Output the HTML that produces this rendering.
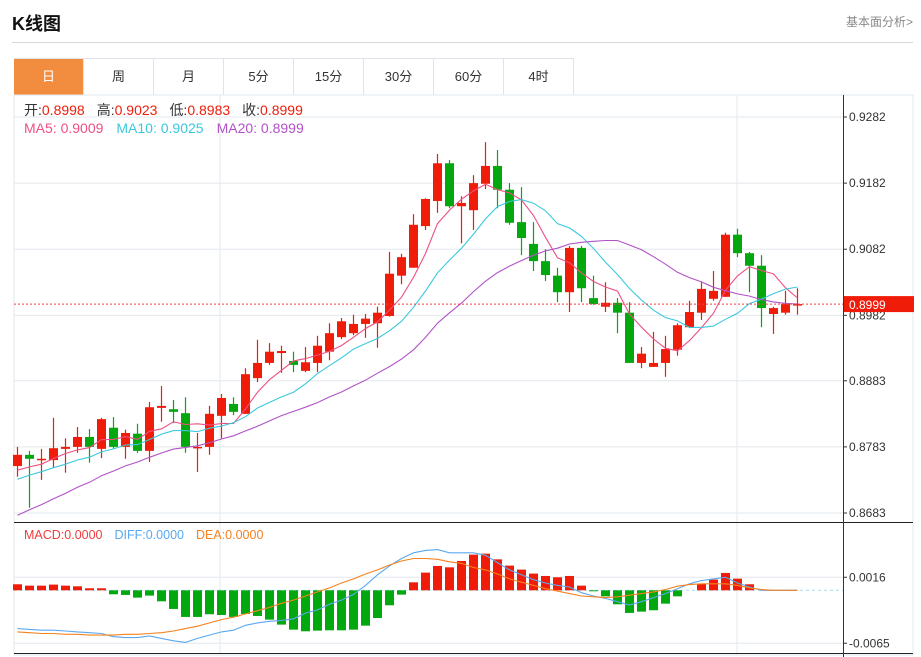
<!DOCTYPE html>
<html><head><meta charset="utf-8">
<style>
body{margin:0;background:#fff;font-family:"Liberation Sans","Noto Sans CJK SC",sans-serif;}
#wrap{position:relative;width:921px;height:657px;overflow:hidden;}
.title{position:absolute;left:12px;top:10px;font-size:18px;font-weight:bold;color:#111;}
.more{position:absolute;right:8px;top:13px;font-size:12px;color:#888;}
.hline{position:absolute;left:12px;right:8px;top:42px;height:1px;background:#d8d8d8;}
.tabs{position:absolute;left:14px;top:58px;height:36px;display:flex;border-top:1px solid #e0e4ea;}
.tab{width:69px;height:36px;line-height:36px;text-align:center;font-size:13px;color:#333;border-right:1px solid #e0e4ea;}
.tab.on{background:#f28c3f;color:#fff;}
svg{position:absolute;left:0;top:0;}
</style></head><body>
<div id="wrap">
<div class="title">K线图</div>
<div class="more">基本面分析&gt;</div>
<div class="hline"></div>
<div class="tabs">
<div class="tab on">日</div>
<div class="tab">周</div>
<div class="tab">月</div>
<div class="tab">5分</div>
<div class="tab">15分</div>
<div class="tab">30分</div>
<div class="tab">60分</div>
<div class="tab">4时</div>
</div>
<svg id="chart" width="921" height="657"></svg>
</div>
<script>
const opens=[.8754,.8771,.8763,.8763,.8780,.8783,.8798,.8780,.8812,.8783,.8803,.8777,.8842,.8840,.8834,.8781,.8783,.8830,.8848,.8833,.8887,.8910,.8925,.8913,.8898,.8910,.8927,.8949,.8955,.8969,.8970,.8981,.9042,.9054,.9117,.9155,.9212,.9147,.9141,.9181,.9208,.9172,.9123,.9090,.9064,.9042,.9017,.9084,.9008,.8995,.9001,.8986,.8910,.8904,.8910,.8930,.8964,.8986,.9007,.9010,.9104,.9076,.9057,.8984,.8986,.8998];
const highs=[.8783,.8777,.8780,.8827,.8796,.8813,.8810,.8827,.8828,.8809,.8818,.8851,.8875,.8854,.8858,.8804,.8845,.8863,.8858,.8902,.8945,.8940,.8936,.8927,.8934,.8951,.8970,.8978,.8983,.8984,.8995,.9078,.9075,.9135,.9159,.9226,.9217,.9162,.9194,.9244,.9232,.9182,.9176,.9123,.9082,.9054,.9087,.9087,.9042,.9032,.9008,.9002,.8934,.8957,.8951,.8970,.9004,.9032,.9049,.9107,.9113,.9078,.9073,.8995,.9019,.9023];
const lows=[.8738,.8691,.8733,.8751,.8744,.8774,.8759,.8766,.8780,.8765,.8774,.8760,.8821,.8819,.8774,.8745,.8771,.8796,.8831,.8833,.8881,.8907,.8895,.8896,.8896,.8896,.8914,.8946,.8952,.8948,.8933,.8980,.9029,.9054,.9111,.9137,.9144,.9091,.9111,.9173,.9144,.9119,.9073,.9049,.9034,.9002,.8987,.9002,.8998,.8987,.8955,.8910,.8902,.8904,.8889,.8921,.8963,.8975,.9004,.9010,.9070,.9017,.8964,.8954,.8983,.8983];
const closes=[.8771,.8765,.8765,.8781,.8783,.8798,.8783,.8825,.8783,.8804,.8777,.8843,.8845,.8836,.8783,.8783,.8833,.8857,.8836,.8893,.8910,.8927,.8928,.8907,.8911,.8936,.8955,.8973,.8969,.8977,.8986,.9045,.9070,.9119,.9158,.9212,.9147,.9152,.9182,.9208,.9172,.9122,.9099,.9064,.9043,.9017,.9084,.9023,.8999,.9001,.8986,.8910,.8924,.8910,.8931,.8967,.8987,.9022,.9019,.9104,.9076,.9057,.8993,.8993,.8999,.8999];
const priorCloses=[.8600,.8610,.8605,.8620,.8615,.8630,.8625,.8640,.8650,.8660,.8700,.8715,.8720,.8730,.8735,.8740,.8745,.8738,.8745];
const macdBars=[.00074,.00057,.00057,.0007,.00057,.00049,.00025,.00025,-.00049,-.00057,-.0009,-.00065,-.00135,-.00229,-.00327,-.00327,-.00294,-.00303,-.00327,-.0029,-.00315,-.0036,-.00421,-.00483,-.00503,-.00495,-.00491,-.00491,-.00483,-.00434,-.0034,-.00184,-.00053,.00098,.00217,.00299,.00282,.0036,.00438,.0045,.0038,.00303,.00254,.00205,.00176,.0016,.00176,.00057,-.00012,-.00074,-.00172,-.00278,-.00262,-.00245,-.00164,-.00074,0,.00082,.00131,.00213,.00143,.00074,0,0,0,0];
const diffs=[-.0047,-.0048,-.0049,-.0049,-.0050,-.0051,-.0052,-.0053,-.0057,-.0058,-.0058,-.0056,-.0059,-.0062,-.0064,-.0059,-.0055,-.0051,-.0049,-.0043,-.0040,-.0038,-.0037,-.0035,-.0028,-.0024,-.0017,-.0012,-.0005,.0006,.0019,.0030,.0039,.0046,.0049,.0050,.0046,.0046,.0046,.0043,.0034,.0025,.0019,.0013,.0009,.0006,.0004,-.0003,-.0007,-.0010,-.0014,-.0018,-.0014,-.0009,-.0004,.0002,.0008,.0012,.0014,.0016,.0009,.0004,0,0,0,0];
const deas=[-.0051,-.0052,-.0053,-.0053,-.0054,-.0054,-.0055,-.0055,-.0055,-.0054,-.0054,-.0053,-.0052,-.0050,-.0047,-.0044,-.0040,-.0036,-.0033,-.0029,-.0025,-.0021,-.0016,-.0012,-.0007,-.0002,.0003,.0009,.0014,.0020,.0025,.0031,.0036,.0039,.0039,.0038,.0035,.0033,.0028,.0025,.0020,.0014,.0010,.0006,.0002,-.0001,-.0004,-.0007,-.0008,-.0009,-.0008,-.0006,-.0004,-.0002,.0001,.0005,.0007,.0008,.0008,.0008,.0006,.0003,.0001,0,0,0];
const priceTicks=[0.9282,0.9182,0.9082,0.8982,0.8883,0.8783,0.8683];
const macdTicks=[0.0016,-0.0065];
const lastPrice=0.8999;

const NS='http://www.w3.org/2000/svg';
const svg=document.getElementById('chart');
function mk(tag,attrs,parent){const e=document.createElementNS(NS,tag);for(const k in attrs)e.setAttribute(k,attrs[k]);(parent||svg).appendChild(e);return e;}
const L=14,R=843;
const yP=p=>117+(0.9282-p)/0.0599*396;
const yM=v=>590.3-v*8148;
const xC=i=>17.5+i*12;
const RED='#f01c0a',GREEN='#03a80f';

let g=mk('g',{});


mk('rect',{x:L,y:95,width:899,height:560,fill:'none',stroke:'#e3e8ee'},g);
priceTicks.forEach(t=>mk('line',{x1:L,x2:R,y1:yP(t),y2:yP(t),stroke:'#e3e8ee'},g));
mk('line',{x1:L,x2:R,y1:yM(0.0016),y2:yM(0.0016),stroke:'#e3e8ee'},g);
mk('line',{x1:L,x2:R,y1:yM(-0.0065),y2:yM(-0.0065),stroke:'#e3e8ee'},g);
[220,737].forEach(x=>mk('line',{x1:x,x2:x,y1:95,y2:655,stroke:'#e3e8ee'},g));
mk('line',{x1:L,x2:913,y1:522.5,y2:522.5,stroke:'#222'},g);
mk('line',{x1:L,x2:913,y1:653.5,y2:653.5,stroke:'#222'},g);
mk('line',{x1:R+.5,x2:R+.5,y1:95,y2:657,stroke:'#333'},g);

priceTicks.forEach(t=>{mk('line',{x1:R,x2:R+4,y1:yP(t),y2:yP(t),stroke:'#333'});
 const e=mk('text',{x:849,y:yP(t)+4,'font-size':12,fill:'#333'});e.textContent=t.toFixed(4);
 
 });
macdTicks.forEach(t=>{mk('line',{x1:R,x2:R+4,y1:yM(t),y2:yM(t),stroke:'#333'});
 const e=mk('text',{x:849,y:yM(t)+4,'font-size':12,fill:'#333'});e.textContent=t.toFixed(4);
 
 });

closes.forEach((c,i)=>{
 const o=opens[i],up=c>=o,col=up?RED:GREEN,x=xC(i);
 const cg=mk('g',{});
 
 
 mk('line',{x1:x,x2:x,y1:yP(highs[i]),y2:yP(lows[i]),stroke:col,'stroke-width':1.2},cg);
 const t=yP(Math.max(o,c)),b=yP(Math.min(o,c));
 mk('rect',{x:x-4.5,y:t,width:9,height:Math.max(b-t,1.5),fill:col},cg);
});
const all=priorCloses.concat(closes);
function ma(n){return closes.map((_,i)=>{const j=i+priorCloses.length;let s=0;for(let k=j-n+1;k<=j;k++)s+=all[k];return s/n;});}
[[5,'#ef4f82','ma5-line'],[10,'#3cc8de','ma10-line'],[20,'#b153c7','ma20-line']].forEach(([n,col,name])=>{
 const v=ma(n);const p=mk('polyline',{points:v.map((y,i)=>xC(i)+','+yP(y).toFixed(1)).join(' '),fill:'none',stroke:col,'stroke-width':1.1});
 
 
});
const ly=yP(lastPrice);
mk('line',{x1:L,x2:R,y1:ly,y2:ly,stroke:'#f04040','stroke-dasharray':'2,2'});
const lb=mk('rect',{x:R+1,y:ly-8,width:70,height:16,fill:RED});


const lt=mk('text',{x:849,y:ly+5,'font-size':12,fill:'#fff'});lt.textContent=lastPrice.toFixed(4);



mk('line',{x1:L,x2:R,y1:yM(0),y2:yM(0),stroke:'#a8dcef','stroke-dasharray':'3,3'});
macdBars.forEach((v,i)=>{if(v===0)return;const y0=yM(0),y1=yM(v);
 const r=mk('rect',{x:xC(i)-4.5,y:Math.min(y0,y1),width:9,height:Math.abs(y1-y0),fill:v>0?RED:GREEN});
 
 });
[[diffs,'#5aa8f0','diff-line'],[deas,'#f58220','dea-line']].forEach(([arr,col,name])=>{
 const p=mk('polyline',{points:arr.map((v,i)=>xC(i)+','+yM(v).toFixed(1)).join(' '),fill:'none',stroke:col,'stroke-width':1.1});
 
 });

function legend(y,items,name,fs){const t=mk('text',{x:24,y:y,'font-size':fs});
 
 
 items.forEach(([s,c,dx])=>{const ts=mk('tspan',{fill:c},t);if(dx)ts.setAttribute('dx',dx);ts.textContent=s;});}
legend(115,[['开:','#333'],['0.8998',RED],['高:','#333',12],['0.9023',RED],['低:','#333',12],['0.8983',RED],['收:','#333',12],['0.8999',RED]],'ohlc-legend',14);
legend(133,[['MA5: 0.9009','#ef4f82'],['MA10: 0.9025','#3cc8de',13],['MA20: 0.8999','#b153c7',13]],'ma-legend',14);
legend(539,[['MACD:0.0000','#f03c3c'],['DIFF:0.0000','#5aa8f0',12],['DEA:0.0000','#f58220',12]],'macd-legend',12.5);
</script>
</body></html>
